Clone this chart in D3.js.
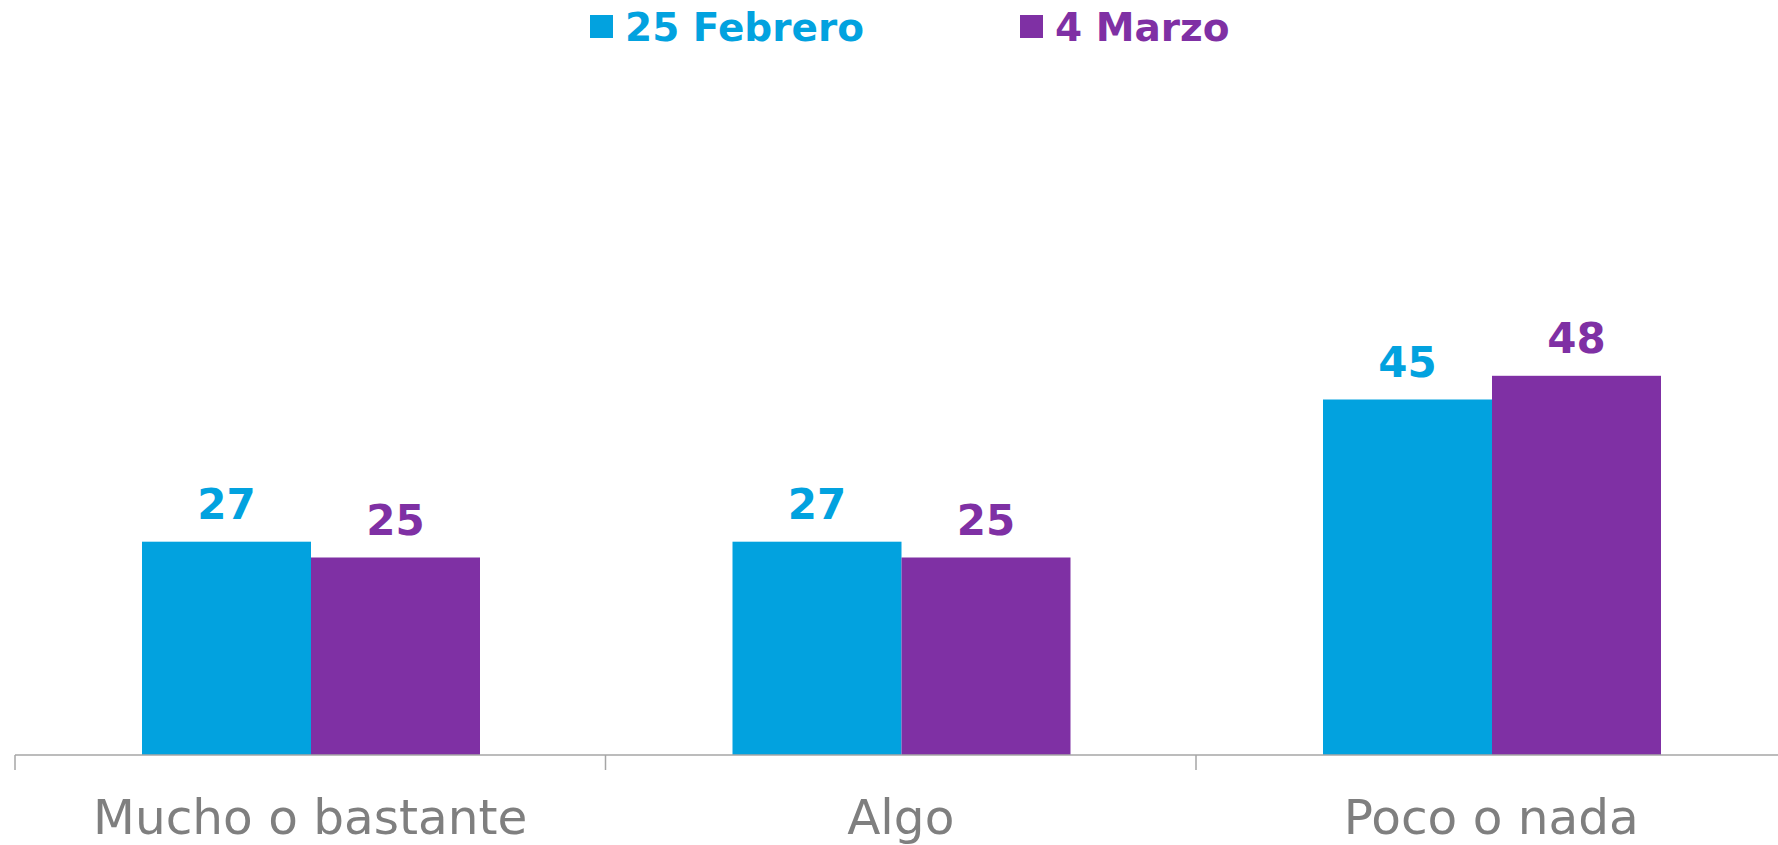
<!DOCTYPE html>
<html>
<head>
<meta charset="utf-8">
<script src="https://cdn.jsdelivr.net/npm/d3@7"></script>
<style>
  body { margin: 0; background: #fff; }
  svg { display: block; }
</style>
</head>
<body>
<div id="chart"></div>
<script>
// data
var categories = ["Mucho o bastante", "Algo", "Poco o nada"];
var seriesNames = ["25 Febrero", "4 Marzo"];
var febrero = [27, 27, 45];
var marzo = [25, 25, 48];
var colors = ["#02a2df", "#7f30a4"];

var svgWidth = 1778;
var svgHeight = 845;
var baseY = 755;

var svg = d3.select("#chart")
  .append("svg")
  .attr("width", svgWidth)
  .attr("height", svgHeight);

// scales
var x0 = d3.scaleBand()
  .domain(categories)
  .range([15, 15 + 3 * 590.5])
  .padding(0);

var x1 = d3.scaleBand()
  .domain(seriesNames)
  .range([127, 465]);

var y = d3.scaleLinear()
  .domain([0, 60])
  .range([baseY, baseY - 60 * 7.9]);

var rows = categories.map(function(c, i) {
  return { cat: c, values: [febrero[i], marzo[i]] };
});

// bars
var groups = svg.selectAll("g.cat")
  .data(rows)
  .enter()
  .append("g")
  .attr("class", "cat")
  .attr("transform", d => `translate(${x0(d.cat)}, 0)`);

groups.selectAll("rect")
  .data(d => d.values.map((v, j) => ({ s: seriesNames[j], v: v, j: j })))
  .enter()
  .append("rect")
  .attr("x", d => x1(d.s))
  .attr("y", d => y(d.v))
  .attr("width", x1.bandwidth())
  .attr("height", d => baseY - y(d.v))
  .attr("fill", d => colors[d.j]);

// value labels
groups.selectAll("text.val")
  .data(d => d.values.map((v, j) => ({ s: seriesNames[j], v: v, j: j })))
  .enter()
  .append("text")
  .attr("class", "val")
  .attr("x", d => x1(d.s) + x1.bandwidth() / 2)
  .attr("y", d => y(d.v) - 23)
  .attr("text-anchor", "middle")
  .style("font-family", "'DejaVu Sans', sans-serif")
  .style("font-weight", "bold")
  .style("font-size", "42px")
  .attr("fill", d => colors[d.j])
  .text(d => d.v);

// axis line and ticks
var axis = svg.append("g").attr("class", "axis");
axis.append("line")
  .attr("x1", 15).attr("x2", svgWidth)
  .attr("y1", baseY).attr("y2", baseY)
  .attr("stroke", "#a6a6a6")
  .attr("stroke-width", 1.5);

axis.selectAll("line.tick")
  .data(categories)
  .enter()
  .append("line")
  .attr("class", "tick")
  .attr("x1", d => x0(d)).attr("x2", d => x0(d))
  .attr("y1", baseY).attr("y2", baseY + 15)
  .attr("stroke", "#a6a6a6")
  .attr("stroke-width", 1.5);

axis.selectAll("text.cat")
  .data(categories)
  .enter()
  .append("text")
  .attr("class", "cat")
  .attr("x", d => x0(d) + x0.bandwidth() / 2)
  .attr("y", 834)
  .attr("text-anchor", "middle")
  .style("font-family", "'DejaVu Sans', sans-serif")
  .style("font-size", "48.5px")
  .attr("fill", "#7f7f7f")
  .text(d => d);

// legend
var legendX = [590, 1020];
var legend = svg.selectAll("g.legend")
  .data(seriesNames)
  .enter()
  .append("g")
  .attr("class", "legend")
  .attr("transform", (d, i) => `translate(${legendX[i]}, 0)`);

legend.append("rect")
  .attr("x", 0).attr("y", 15)
  .attr("width", 23).attr("height", 23)
  .attr("fill", (d, i) => colors[i]);

legend.append("text")
  .attr("x", 35)
  .attr("y", 41)
  .style("font-family", "'DejaVu Sans', sans-serif")
  .style("font-weight", "bold")
  .style("font-size", "39px")
  .attr("fill", (d, i) => colors[i])
  .text(d => d);
</script>
</body>
</html>
